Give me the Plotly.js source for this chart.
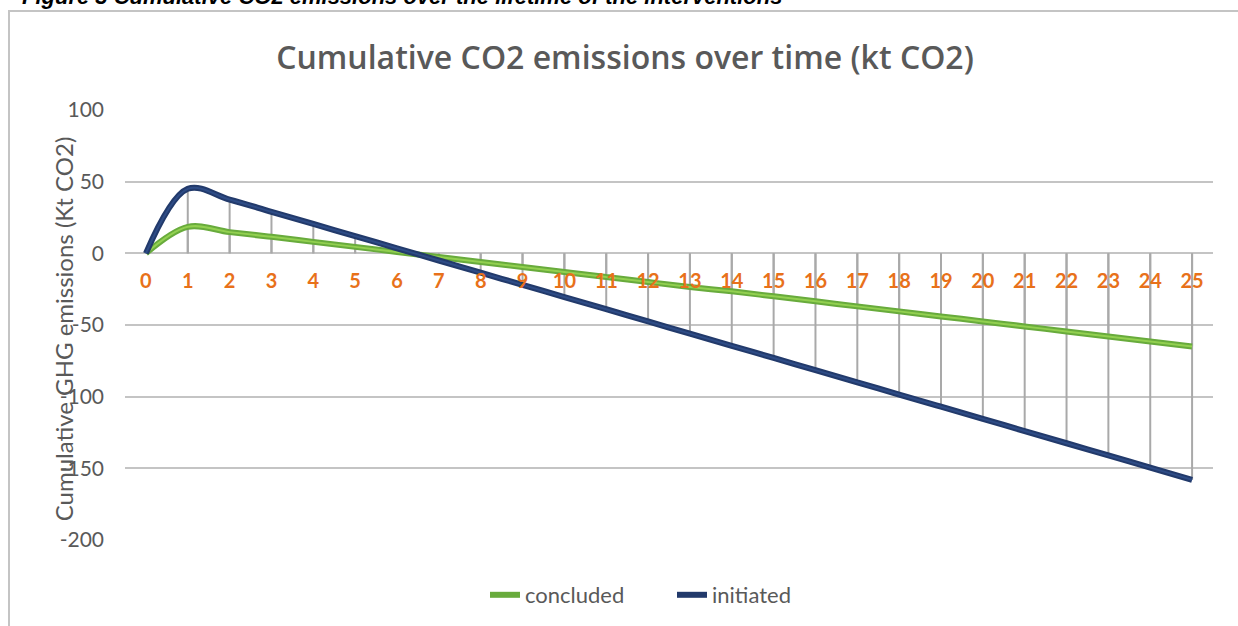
<!DOCTYPE html>
<html>
<head>
<meta charset="utf-8">
<script src="https://cdn.plot.ly/plotly-3.0.1.min.js"></script>
<style>
  html, body { margin: 0; padding: 0; background: #ffffff; }
  #wrap { position: relative; width: 1238px; height: 626px; overflow: hidden; }
  #frame { position: absolute; left: 8px; top: 10px; width: 1240px; height: 630px;
           border-left: 2px solid #c4c4c4; border-top: 2px solid #c4c4c4; }
  #chart { position: absolute; left: 0; top: 0; width: 1238px; height: 626px; }
</style>
</head>
<body>
<div id="wrap">
  <div id="frame"></div>
  <div id="chart"></div>
</div>
<script>
// ---- data ----
const years = [0,1,2,3,4,5,6,7,8,9,10,11,12,13,14,15,16,17,18,19,20,21,22,23,24,25];
const concluded = [0, 18.5, 14.8, 11.5, 8, 4.5, 1, -2.5, -6, -9.5, -13, -16.5, -20, -23.5, -26.5,
                   -30, -33.5, -37, -40.5, -44, -47.5, -51, -54.5, -58, -61.5, -65];
const initiated = [0, 45, 37.5, 29, 20.5, 12, 3.5, -5, -13.5, -22, -30.5, -39, -47.5, -56, -64.5,
                   -73, -81.5, -90, -98.5, -107, -115.5, -124, -132.5, -141, -149.5, -158];
const seriesNames = ['concluded', 'initiated'];
const yTicks = [100, 50, 0, -50, -100, -150, -200];
const yTickText = ['100', '50', '0', '-50', '-100', '-150', '-200'];
const chartTitle = 'Cumulative CO2 emissions over time (kt CO2)';
const yTitle = 'Cumulative GHG emissions (Kt CO2)';
const caption = 'Figure 3 Cumulative CO2 emissions over the lifetime of the interventions';

// drop lines from the category axis (y = 0) to each data point
const dropX = [], dropY = [];
[concluded, initiated].forEach(function (s) {
  years.forEach(function (yr, i) {
    dropX.push(yr, yr, null);
    dropY.push(0, s[i], null);
  });
});

const FONT = 'Lato, "Open Sans", sans-serif';
const GRAY = '#595959';

const traces = [
  { x: dropX, y: dropY, mode: 'lines', line: { color: '#a9a9a9', width: 2 },
    hoverinfo: 'skip', showlegend: false },
  { x: years, y: concluded, name: seriesNames[0], mode: 'lines',
    line: { color: '#68ab3c', width: 6, shape: 'spline', smoothing: 1 } },
  { x: years, y: concluded, mode: 'lines', hoverinfo: 'skip', showlegend: false,
    line: { color: '#92d050', width: 2, shape: 'spline', smoothing: 1 } },
  { x: years, y: initiated, name: seriesNames[1], mode: 'lines',
    line: { color: '#223a6b', width: 6, shape: 'spline', smoothing: 1 } },
  { x: years, y: initiated, mode: 'lines', hoverinfo: 'skip', showlegend: false,
    line: { color: '#2e4c86', width: 2, shape: 'spline', smoothing: 1 } }
];

const layout = {
  width: 1238, height: 626,
  margin: { l: 125, r: 25, t: 110, b: 86, pad: 0 },
  paper_bgcolor: 'rgba(0,0,0,0)',
  plot_bgcolor: 'rgba(0,0,0,0)',
  font: { family: FONT, color: GRAY },
  title: { text: chartTitle, font: { family: '"Open Sans", Lato, sans-serif', size: 32, color: GRAY, weight: 600 },
           x: 625 / 1238, xref: 'container', xanchor: 'center',
           y: 1 - 58 / 626, yref: 'container', yanchor: 'middle' },
  xaxis: {
    range: [-0.5, 25.5], tickmode: 'array', tickvals: years, ticktext: years.map(String),
    showgrid: false, zeroline: false, showline: false, ticks: '',
    anchor: 'free', position: 2 / 3,
    tickfont: { family: FONT, size: 20, color: '#e8711a', weight: 'bold' },
    ticklabelstandoff: 14, fixedrange: true
  },
  yaxis: {
    range: [-200, 100], tickmode: 'array', tickvals: yTicks, ticktext: yTickText,
    showgrid: true, gridcolor: '#c4c4c4', gridwidth: 2,
    zeroline: false, showline: false, ticks: '',
    tickfont: { family: FONT, size: 21, color: GRAY },
    ticklabelstandoff: 20, fixedrange: true
  },
  legend: { orientation: 'h', x: 485 / 1238, xref: 'container', xanchor: 'left',
            y: 1 - 595 / 626, yref: 'container', yanchor: 'middle',
            font: { family: FONT, size: 22, color: GRAY },
            entrywidth: 142, entrywidthmode: 'pixels' },
  annotations: [
    { text: yTitle, textangle: -90, xref: 'paper', yref: 'paper',
      x: (63 - 125) / 1088, y: 0.49, xanchor: 'center', yanchor: 'middle',
      showarrow: false, font: { family: FONT, size: 24, color: GRAY } },
    { text: '<b><i>' + caption + '</i></b>', xref: 'paper', yref: 'paper',
      x: (20 - 125) / 1088, y: (540 - 11) / 430, xanchor: 'left', yanchor: 'bottom',
      showarrow: false, font: { family: '"Liberation Sans", Arial, sans-serif', size: 22, color: '#000000' } }
  ],
  showlegend: true
};

Plotly.newPlot('chart', traces, layout, { displayModeBar: false, staticPlot: true });
</script>
</body>
</html>
